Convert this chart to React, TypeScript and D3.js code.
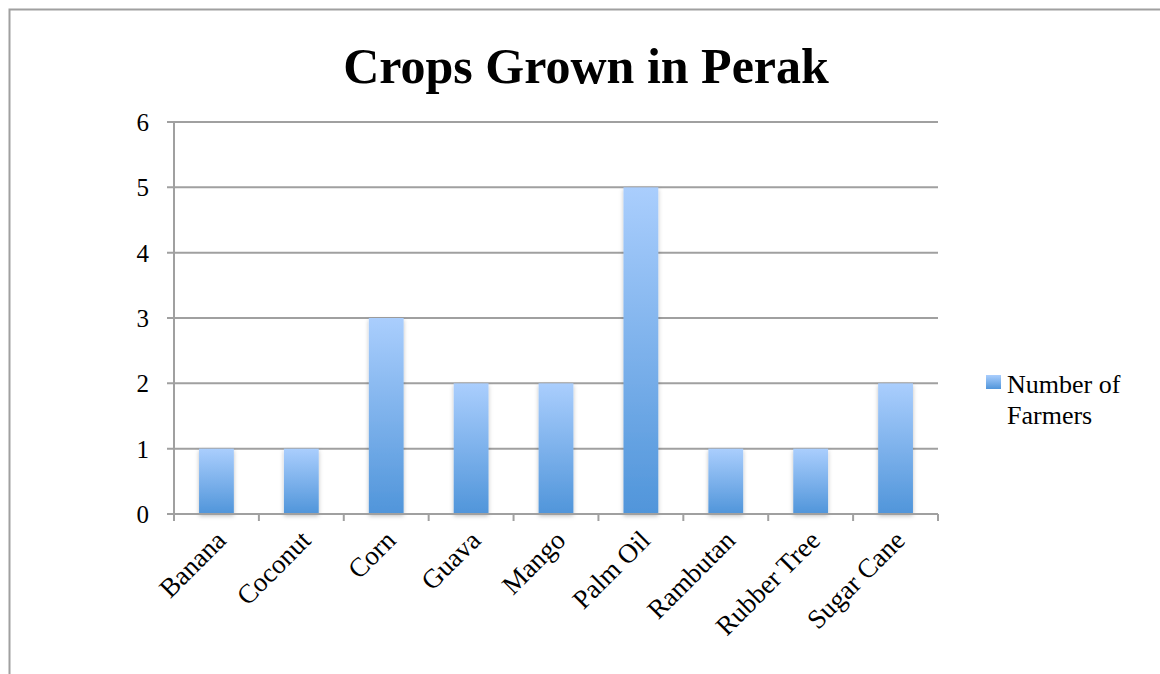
import React from "react";
import * as d3 from "d3";

const categories = ["Banana", "Coconut", "Corn", "Guava", "Mango", "Palm Oil", "Rambutan", "Rubber Tree", "Sugar Cane"];
const farmers = [1, 1, 3, 2, 2, 5, 1, 1, 2];
const yTicks = [0, 1, 2, 3, 4, 5, 6];
const title = "Crops Grown in Perak";
const seriesName = ["Number of", "Farmers"];

const W = 1160;
const H = 674;
const plot = { left: 174, right: 938, top: 122, bottom: 514 };
const FONT = "'Liberation Serif', 'DejaVu Serif', serif";

export default function App() {
  const x = d3.scaleBand<string>().domain(categories).range([plot.left, plot.right]).paddingInner(0.59).paddingOuter(0.295);
  const xb = d3.scaleBand<string>().domain(categories).range([plot.left, plot.right]);
  const y = d3.scaleLinear().domain([0, 6]).range([plot.bottom, plot.top]);
  const grid = "#a0a0a0";

  return (
    <svg width={W} height={H} style={{ position: "absolute", left: 0, top: 0 }}>
      <defs>
        <linearGradient id="barGrad" x1="0" y1="0" x2="0" y2="1">
          <stop offset="0%" stopColor="#aacefd" />
          <stop offset="100%" stopColor="#5095da" />
        </linearGradient>
        <linearGradient id="legGrad" x1="0" y1="0" x2="0" y2="1">
          <stop offset="0%" stopColor="#aacefd" />
          <stop offset="100%" stopColor="#5095da" />
        </linearGradient>
        <filter id="shadow" x="-30%" y="-10%" width="160%" height="130%">
          <feDropShadow dx="0" dy="2" stdDeviation="2" floodColor="#000" floodOpacity="0.25" />
        </filter>
      </defs>
      <rect x={0} y={0} width={W} height={H} fill="#fff" />
      <path d={`M9.5,${H} V9.5 H${W}`} fill="none" stroke="#a0a0a0" strokeWidth={2} />

      <text x={586} y={83} textAnchor="middle" fontFamily={FONT} fontWeight="bold" fontSize={50} fill="#000">
        {title}
      </text>

      {yTicks.map((t) => (
        <g key={t}>
          <line x1={plot.left - 7} x2={plot.right} y1={y(t)} y2={y(t)} stroke={grid} strokeWidth={2} />
          <text x={149} y={y(t) + 9} textAnchor="end" fontFamily={FONT} fontSize={25} fill="#000">
            {t}
          </text>
        </g>
      ))}
      <line x1={plot.left} x2={plot.left} y1={plot.top} y2={plot.bottom} stroke={grid} strokeWidth={2} />

      {categories.map((c, i) => (
        <rect
          key={c}
          x={x(c)}
          y={y(farmers[i])}
          width={x.bandwidth()}
          height={y(0) - y(farmers[i])}
          fill="url(#barGrad)"
          filter="url(#shadow)"
        />
      ))}

      <line x1={plot.left} x2={plot.right} y1={plot.bottom} y2={plot.bottom} stroke={grid} strokeWidth={2} />
      {[...categories.map((c) => xb(c) as number), plot.right].map((px, i) => (
        <line key={i} x1={px} x2={px} y1={plot.bottom} y2={plot.bottom + 7} stroke={grid} strokeWidth={2} />
      ))}

      {categories.map((c) => {
        const cx = (xb(c) as number) + xb.bandwidth() / 2 + 11;
        const cy = plot.bottom + 28;
        return (
          <text
            key={c}
            x={cx}
            y={cy}
            transform={`rotate(-45, ${cx}, ${cy})`}
            textAnchor="end"
            fontFamily={FONT}
            fontSize={27}
            fill="#000"
          >
            {c}
          </text>
        );
      })}

      <rect x={986} y={375} width={15} height={14} fill="url(#legGrad)" />
      <text x={1007} y={393} fontFamily={FONT} fontSize={26} fill="#000">
        {seriesName[0]}
      </text>
      <text x={1007} y={424} fontFamily={FONT} fontSize={26} fill="#000">
        {seriesName[1]}
      </text>
    </svg>
  );
}
